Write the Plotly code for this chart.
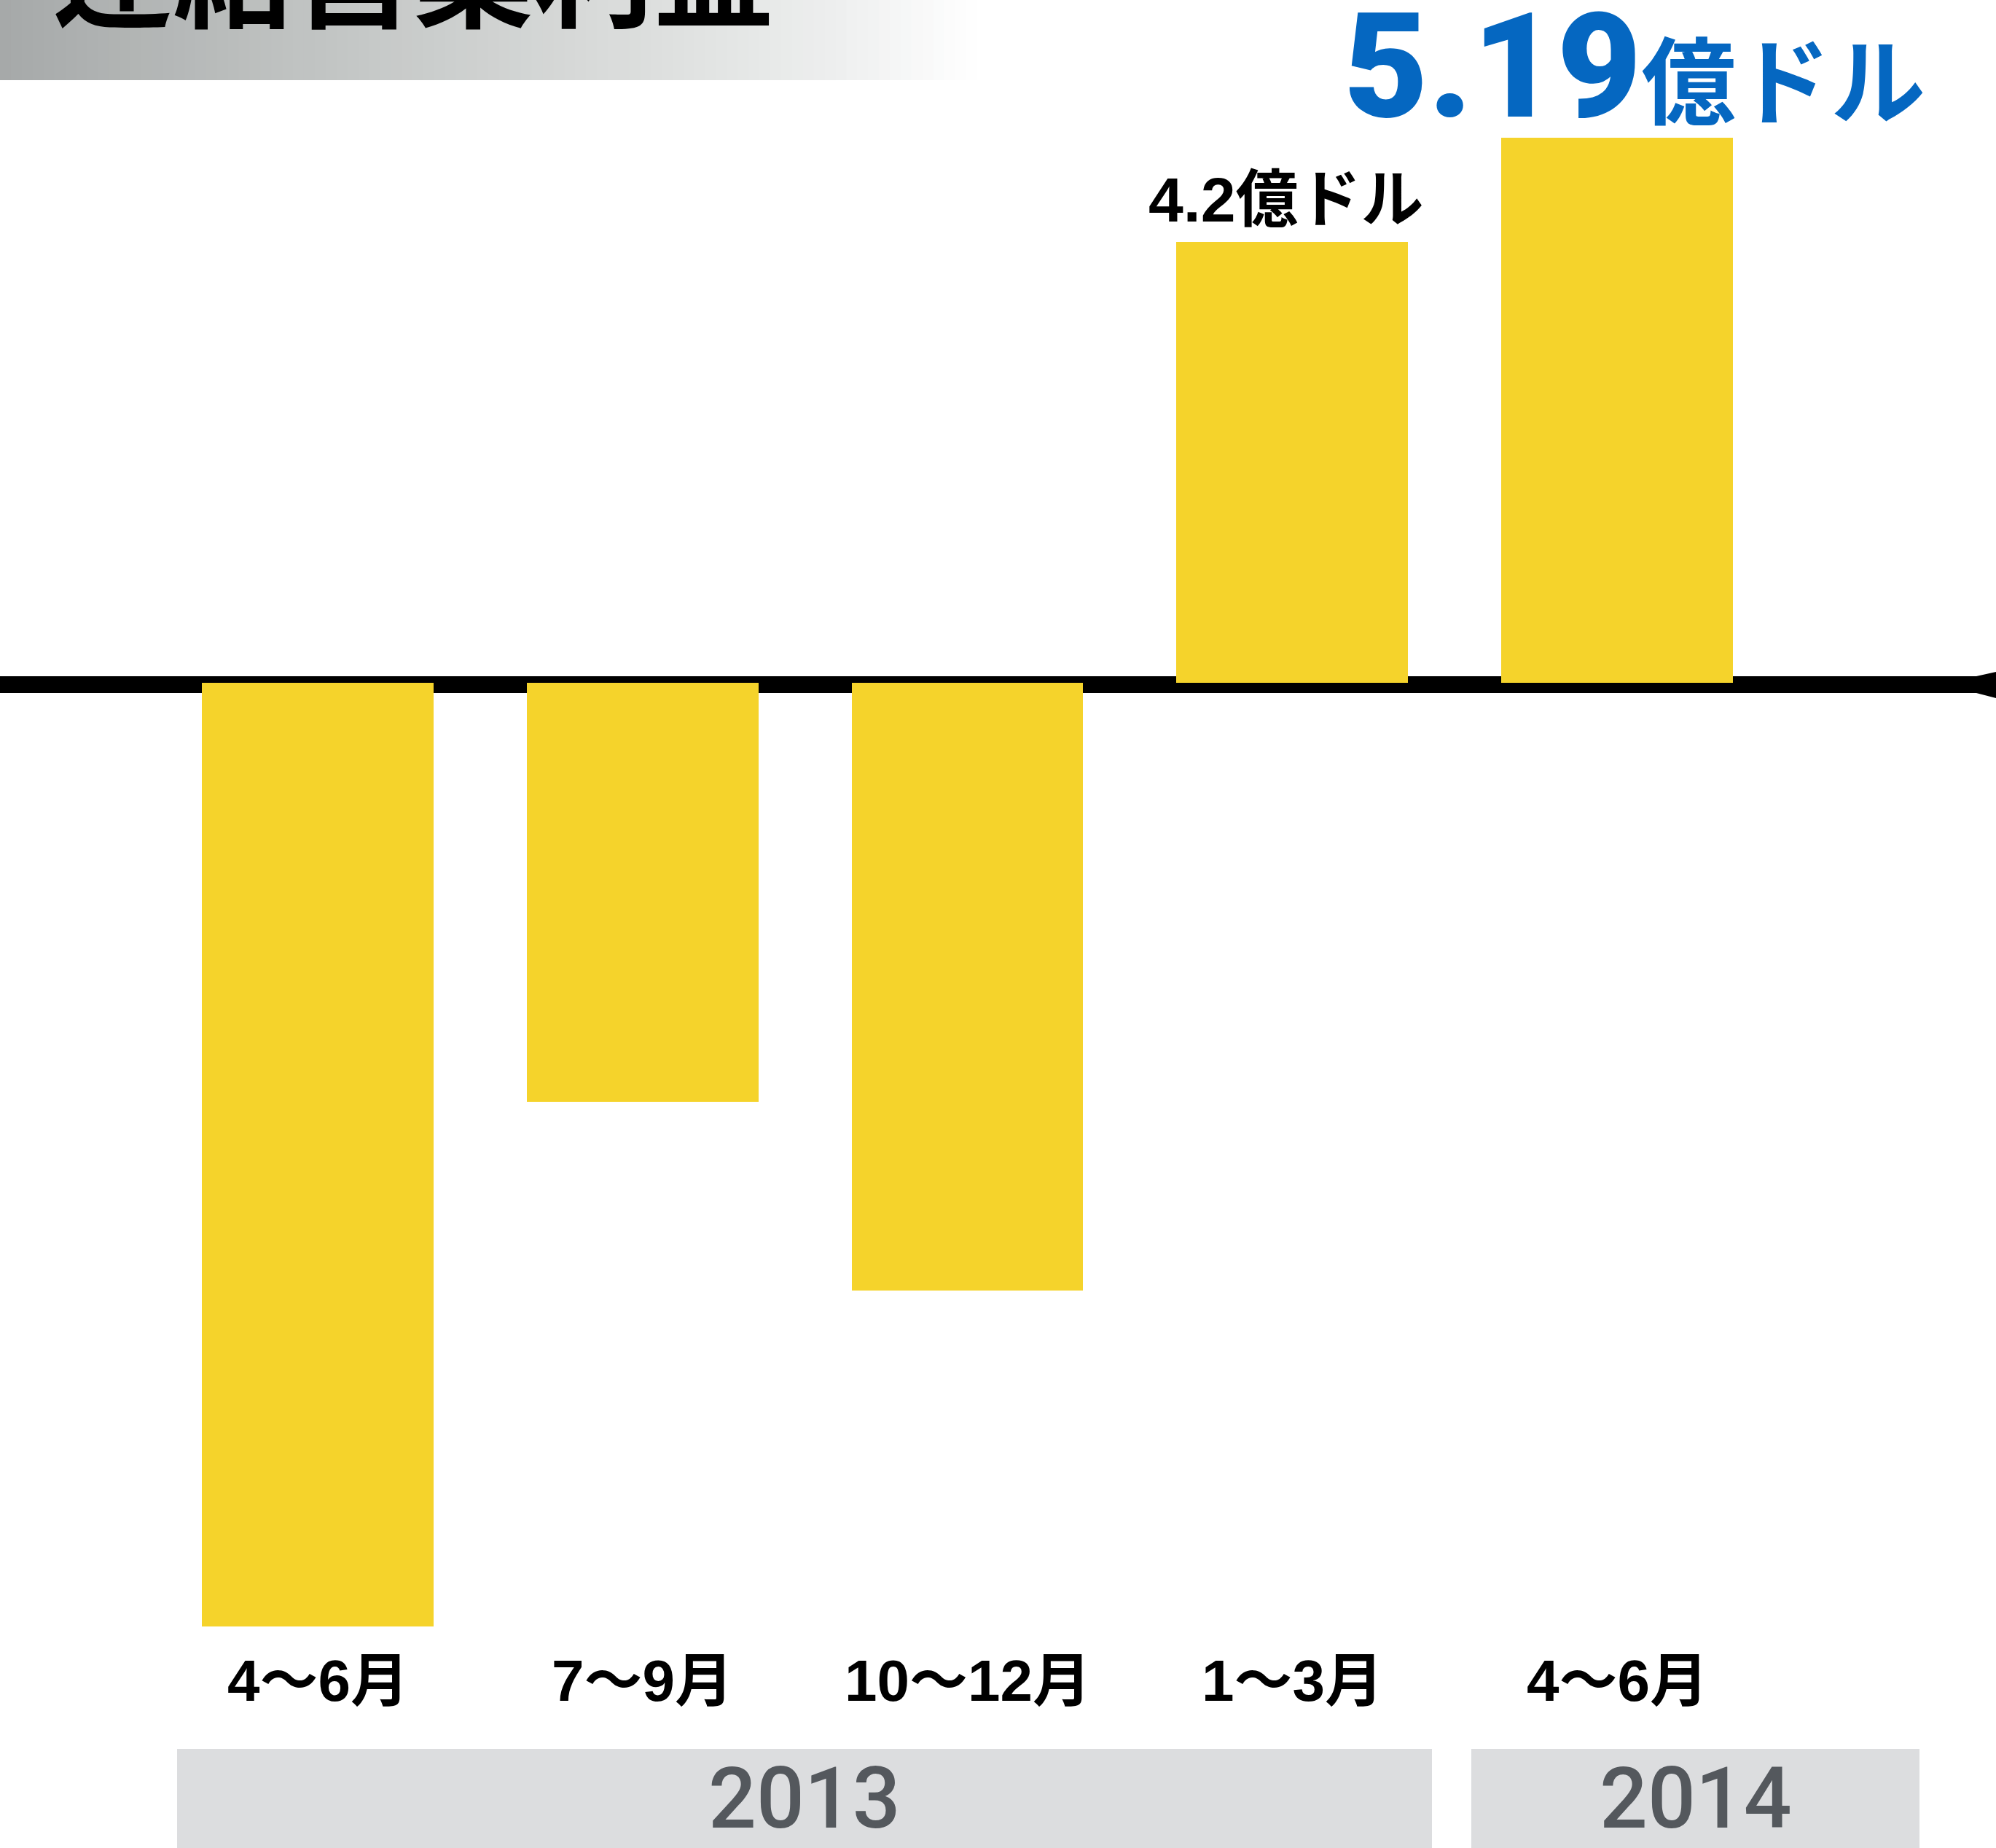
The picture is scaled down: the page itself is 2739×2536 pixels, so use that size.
import plotly.graph_objects as go

# ---------------- data ----------------
periods = ["4～6月", "7～9月", "10～12月", "1～3月", "4～6月"]
values = [-8.99, -3.99, -5.79, 4.20, 5.19]          # 億ドル
years = ["2013", "2014"]
title_text = "連結営業利益"
q1_label = "4.2億ドル"
latest_num = "5.19"
latest_unit = "億ドル"

# ---------------- layout helpers ----------------
W, H = 2739, 2536
def px(x):
    return x / W
def py(y):
    return 1 - y / H

BAR = "#F5D32B"
CJK = "Noto Sans CJK JP"
LAT = "Liberation Sans, Noto Sans CJK JP"

fig = go.Figure()
fig.add_trace(go.Bar(
    x=list(range(len(values))), y=values, width=0.713,
    marker=dict(color=BAR, line=dict(width=0)),
    hoverinfo="skip", showlegend=False,
))

shapes = []
# title gradient band
stops = [(0, (166, 169, 169)), (450, (194, 197, 196)), (850, (218, 220, 219)),
         (1150, (238, 239, 239)), (1340, (255, 255, 255))]
N = 90
for k in range(N):
    x0 = 1340 * k / N
    x1 = 1340 * (k + 1) / N + 1
    xm = (x0 + x1) / 2
    for (a, ca), (b, cb) in zip(stops[:-1], stops[1:]):
        if a <= xm <= b:
            t = (xm - a) / (b - a)
            c = tuple(int(round(ca[j] + (cb[j] - ca[j]) * t)) for j in range(3))
            break
    shapes.append(dict(type="rect", xref="paper", yref="paper",
                       x0=px(x0), x1=px(x1), y0=py(110), y1=py(0),
                       fillcolor="rgb(%d,%d,%d)" % c, line=dict(width=0), layer="below"))

# zero line (thick brush-like stroke, slightly flared at the right end)
shapes.append(dict(type="line", xref="paper", yref="paper",
                   x0=0, x1=1, y0=py(939.5), y1=py(939.5),
                   line=dict(color="black", width=23), layer="below"))
shapes.append(dict(type="path", xref="paper", yref="paper",
                   path="M %f,%f L %f,%f L %f,%f L %f,%f Z" % (
                       px(2712), py(928), px(2739), py(922),
                       px(2739), py(958), px(2712), py(951)),
                   fillcolor="black", line=dict(width=0), layer="below"))

# year boxes
boxes = [(243, 1965), (2019, 2634)]
for (a, b) in boxes:
    shapes.append(dict(type="rect", xref="paper", yref="paper",
                       x0=px(a), x1=px(b), y0=py(2536), y1=py(2400),
                       fillcolor="#DCDDDF", line=dict(width=0), layer="below"))

annotations = []
# title (cut off at the top edge, as in the original)
annotations.append(dict(text="<b>" + title_text + "</b>", xref="paper", yref="paper",
                        x=px(70), y=py(-47), xanchor="left", yanchor="middle",
                        showarrow=False, font=dict(family=CJK, size=165, color="black")))
# period labels
for i, p in enumerate(periods):
    annotations.append(dict(text="<b>" + p + "</b>", xref="x", yref="paper",
                            x=i, y=py(2306), xanchor="center", yanchor="middle",
                            showarrow=False, font=dict(family=LAT, size=80, color="black")))
# year labels
for (a, b), yr in zip(boxes, years):
    annotations.append(dict(text=yr, xref="paper", yref="paper",
                            x=px((a + b) / 2), y=py(2468), xanchor="center", yanchor="middle",
                            showarrow=False,
                            font=dict(family="Roboto, Liberation Sans", size=116,
                                      color="#54585D", weight=500)))
# value labels
annotations.append(dict(text="<b>" + q1_label + "</b>", xref="x", yref="y",
                        x=3, y=values[3], xanchor="center", yanchor="middle",
                        yshift=58, xshift=-8, showarrow=False,
                        font=dict(family=LAT, size=86, color="black")))
annotations.append(dict(
    text="<span style='font-size:200px;font-family:Roboto;font-weight:900'>" + latest_num + "</span>"
         "<span style='font-size:130px;font-weight:bold'>" + latest_unit + "</span>",
    xref="x", yref="y", x=4, y=values[4], xanchor="center", yanchor="middle",
    yshift=98, xshift=24, showarrow=False,
    font=dict(family=LAT, size=200, color="#0567C1")))

fig.update_layout(
    width=W, height=H, margin=dict(l=0, r=0, t=0, b=0, pad=0),
    paper_bgcolor="white", plot_bgcolor="rgba(0,0,0,0)",
    xaxis=dict(range=[-436 / 445.75, (W - 436) / 445.75], visible=False, fixedrange=True),
    yaxis=dict(range=[-(H - 937) / 144.1, 937 / 144.1], visible=False, fixedrange=True),
    shapes=shapes, annotations=annotations, bargap=0, showlegend=False,
)
fig.write_html(
    "out.html",
    config={"displayModeBar": False},
    post_script="document.body.style.margin='0';document.documentElement.style.margin='0';"
                "document.body.style.overflow='hidden';",
)
